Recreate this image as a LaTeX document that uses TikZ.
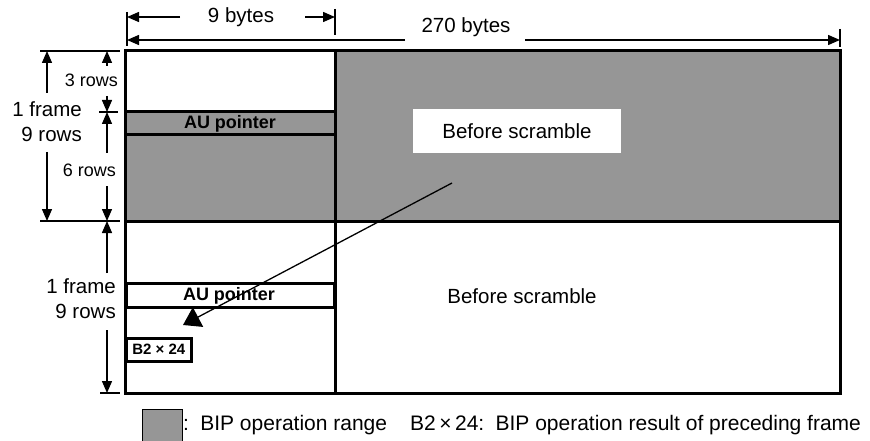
\documentclass[tikz,border=0pt]{standalone}
\usepackage{fontspec}
\setmainfont{Liberation Sans}
\usetikzlibrary{arrows.meta}
\definecolor{bipgray}{RGB}{150,150,150}
\begin{document}
\begin{tikzpicture}[x=1pt,y=-1pt,
  frame/.style={line width=3pt},
  dim/.style={line width=1.4pt},
  dimarrow/.style={dim,-{Triangle[length=12pt,width=10pt]}},
  big/.style={font=\fontsize{20.5}{25}\selectfont, inner sep=0pt},
  small/.style={font=\fontsize{18}{22}\selectfont, inner sep=0pt},
  boldlbl/.style={font=\fontsize{18}{22}\selectfont\bfseries, inner sep=0pt},
]
\useasboundingbox (0,0) rectangle (870,441);

% shaded BIP ranges of the first frame
\fill[bipgray] (335,51) rectangle (840,221);
\fill[bipgray] (125,112) rectangle (335,221);

% frame outline and dividers
\draw[frame] (125,51) rectangle (840,393);
\draw[frame] (125,221) -- (840,221);
\draw[frame] (335,51) -- (335,393);
\draw[frame] (125,112) -- (335,112);
\draw[frame] (125,135) -- (335,135);
\node[boldlbl] (aup1) at (230,124) {AU pointer};

% scramble labels
\node[big, fill=white, minimum width=208, minimum height=44] (bs1) at (517,131) {Before scramble};
\node[big] (bs2) at (522,296) {Before scramble};

% second frame overhead
\node[boldlbl, draw, frame, fill=white, minimum width=208, minimum height=24, anchor=north west] (aup2) at (125,282) {};
\node[boldlbl] (aup2t) at (229,296) {AU pointer};
\node[draw, line width=2.5pt, fill=white, minimum width=65, minimum height=23, anchor=north west,
      font=\fontsize{15}{18}\selectfont\bfseries, inner sep=0pt] (b2) at (125,337) {B2 × 24};

% width dimensions
\node[big] (w9) at (241,17) {9 bytes};
\node[big] (w270) at (466,27) {270 bytes};
\draw[dim] (127,12) -- (127,46);
\draw[dim] (335,9) -- (335,35);
\draw[dim] (840,29) -- (840,47);
\draw[dimarrow] (180,17) -- (127,17);
\draw[dimarrow] (305,17) -- (335,17);
\draw[dimarrow] (405,40) -- (127,40);
\draw[dimarrow] (525,40) -- (840,40);

% height dimensions
\draw[dim] (40,51) -- (120,51);
\draw[dim] (99,112) -- (118,112);
\draw[dim] (40,221) -- (120,221);
\draw[dim] (100,393) -- (120,393);

\node[big, align=right, anchor=east] (f1) at (82,122) {1 frame\\9 rows};
\draw[dimarrow] (47,93) -- (47,51);
\draw[dimarrow] (47,152) -- (47,221);

\node[small, anchor=east] (r3) at (118,80) {3 rows};
\draw[dimarrow] (107,66) -- (107,51);
\draw[dimarrow] (107,96) -- (107,112);

\node[small, anchor=east] (r6) at (116,170) {6 rows};
\draw[dimarrow] (107,153) -- (107,112);
\draw[dimarrow] (107,186) -- (107,221);

\node[big, align=right, anchor=east] (f2) at (116,299) {1 frame\\9 rows};
\draw[dimarrow] (107,273) -- (107,221);
\draw[dimarrow] (107,330) -- (107,393);

% BIP result carried into the next frame
\coordinate (src) at (452,183);
\coordinate (dst) at (183,325);
\draw[line width=1.3pt, -{Triangle[length=17pt,width=22pt]}] (src) -- (dst);

% legend
\node[draw, line width=1.2pt, fill=bipgray, minimum width=40, minimum height=32, anchor=north west, inner sep=0pt] (key) at (142,409) {};
\node[anchor=west, inner sep=0pt, font=\fontsize{21}{25}\selectfont] (keytxt) at (183,425)
  {:\, BIP operation range\hspace{1.1em}B2\,×\,24:\, BIP operation result of preceding frame};
\end{tikzpicture}
\end{document}
